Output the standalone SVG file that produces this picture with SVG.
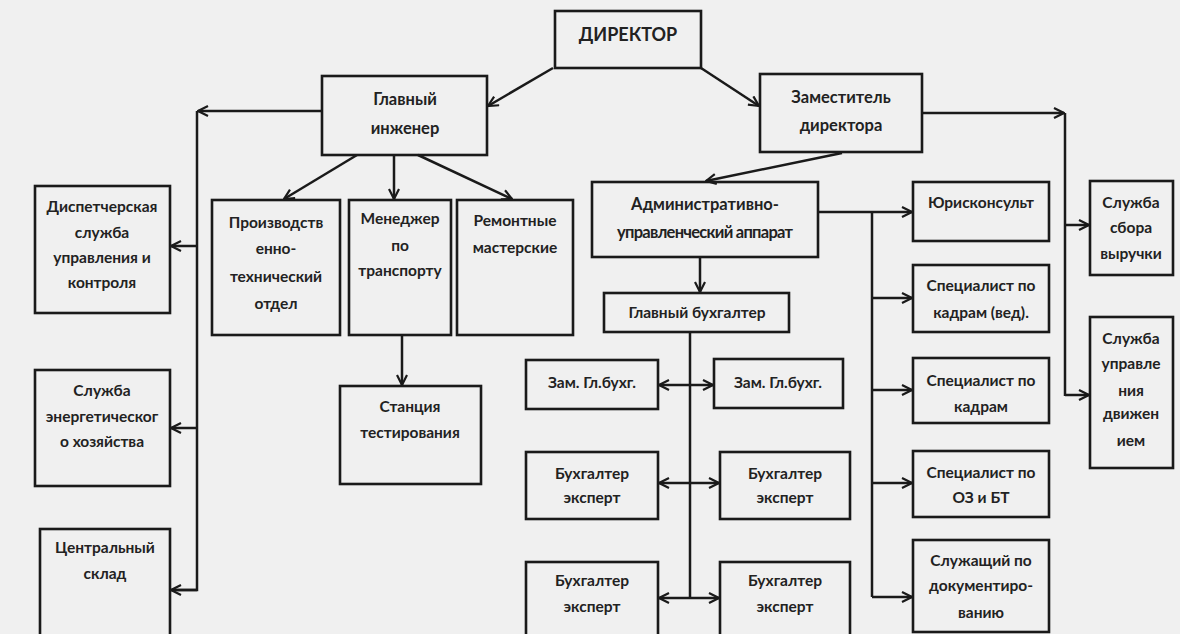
<svg xmlns="http://www.w3.org/2000/svg" width="1180" height="634" viewBox="0 0 1180 634">
<defs>
<marker id="ah" viewBox="0 0 12 12" refX="11" refY="6" markerWidth="12" markerHeight="12" markerUnits="userSpaceOnUse" orient="auto-start-reverse">
<path d="M1,1 L11,6 L1,11" fill="none" stroke="#1a1a1a" stroke-width="2.2"/>
</marker>
<style>
.b{fill:none;stroke:#1a1a1a;stroke-width:2.6}
.t{font-family:Lato,"Open Sans","DejaVu Sans",sans-serif;font-weight:bold;font-size:15.5px;fill:#222;text-anchor:middle}
.m{font-size:16.5px}
.big{font-size:18px}
.c{fill:none;stroke:#1a1a1a;stroke-width:2.5}
.a{marker-end:url(#ah)}
.d{marker-start:url(#ah);marker-end:url(#ah)}
</style>
</defs>
<rect width="1180" height="634" fill="#f0f0f0"/>

<g id="connectors">
<line class="c a" x1="553" y1="68" x2="488" y2="106"/>
<line class="c a" x1="701" y1="68" x2="759" y2="106"/>
<line class="c a" x1="322" y1="111" x2="198" y2="111"/>
<polyline class="c" points="197,111 197,590 172,590"/>
<line class="c a" x1="197" y1="590" x2="171" y2="590"/>
<line class="c a" x1="197" y1="246" x2="171" y2="246"/>
<line class="c a" x1="197" y1="428" x2="171" y2="428"/>
<line class="c a" x1="357" y1="155" x2="284" y2="199"/>
<line class="c a" x1="394" y1="155" x2="394" y2="199"/>
<line class="c a" x1="418" y1="155" x2="512" y2="199"/>
<line class="c a" x1="402" y1="335" x2="402" y2="385"/>
<line class="c a" x1="842" y1="153" x2="706" y2="181"/>
<line class="c a" x1="922" y1="113" x2="1064" y2="113"/>
<line class="c" x1="1065" y1="113" x2="1065" y2="396"/>
<line class="c a" x1="1065" y1="225" x2="1089" y2="225"/>
<line class="c a" x1="1065" y1="395" x2="1089" y2="395"/>
<line class="c a" x1="818" y1="212" x2="912" y2="212"/>
<line class="c" x1="872" y1="212" x2="872" y2="597"/>
<line class="c a" x1="872" y1="298" x2="912" y2="298"/>
<line class="c a" x1="872" y1="390" x2="912" y2="390"/>
<line class="c a" x1="872" y1="483" x2="912" y2="483"/>
<line class="c a" x1="872" y1="597" x2="912" y2="597"/>
<line class="c a" x1="700" y1="257" x2="700" y2="292"/>
<line class="c" x1="690" y1="332" x2="690" y2="598"/>
<line class="c d" x1="659" y1="385" x2="713" y2="385"/>
<line class="c d" x1="659" y1="483" x2="719" y2="483"/>
<line class="c d" x1="659" y1="598" x2="719" y2="598"/>
</g>

<g id="director"><rect class="b" x="555" y="11" width="146" height="57"/><text class="t big" x="628" y="41">ДИРЕКТОР</text></g>
<g id="chief-engineer"><rect class="b" x="322" y="76" width="165" height="79"/><text class="t m" x="405" y="105">Главный</text><text class="t m" x="405" y="134">инженер</text></g>
<g id="deputy-director"><rect class="b" x="760" y="74" width="162" height="78"/><text class="t m" x="841" y="103">Заместитель</text><text class="t m" x="841" y="131">директора</text></g>

<g id="dispatch"><rect class="b" x="35" y="186" width="135" height="127"/><text class="t" x="102" y="212">Диспетчерская</text><text class="t" x="102" y="238">служба</text><text class="t" x="102" y="263">управления и</text><text class="t" x="102" y="288">контроля</text></g>
<g id="energy"><rect class="b" x="35" y="370" width="135" height="116"/><text class="t" x="102" y="396">Служба</text><text class="t" x="102" y="422">энергетическог</text><text class="t" x="102" y="447">о хозяйства</text></g>
<g id="warehouse"><rect class="b" x="40" y="529" width="130" height="115"/><text class="t" x="105" y="553">Центральный</text><text class="t" x="105" y="579">склад</text></g>

<g id="pto"><rect class="b" x="212" y="200" width="128" height="135"/><text class="t" x="276" y="228">Производств</text><text class="t" x="276" y="254">енно-</text><text class="t" x="276" y="282">технический</text><text class="t" x="276" y="309">отдел</text></g>
<g id="transport-manager"><rect class="b" x="349" y="200" width="102" height="135"/><text class="t" x="400" y="224">Менеджер</text><text class="t" x="400" y="251">по</text><text class="t" x="400" y="276">транспорту</text></g>
<g id="repair"><rect class="b" x="457" y="200" width="116" height="135"/><text class="t" x="515" y="226">Ремонтные</text><text class="t" x="515" y="253">мастерские</text></g>
<g id="test-station"><rect class="b" x="340" y="386" width="141" height="98"/><text class="t" x="410" y="412">Станция</text><text class="t" x="410" y="438">тестирования</text></g>

<g id="admin"><rect class="b" x="592" y="182" width="226" height="75"/><text class="t m" x="705" y="210">Административно-</text><text class="t m" x="705" y="238" textLength="176" lengthAdjust="spacing">управленческий аппарат</text></g>
<g id="chief-accountant"><rect class="b" x="604" y="293" width="185" height="39"/><text class="t" x="697" y="318">Главный бухгалтер</text></g>
<g id="deputy-acc-1"><rect class="b" x="526" y="360" width="132" height="49"/><text class="t" x="592" y="388">Зам. Гл.бухг.</text></g>
<g id="deputy-acc-2"><rect class="b" x="714" y="359" width="129" height="49"/><text class="t" x="778" y="388">Зам. Гл.бухг.</text></g>
<g id="acc-expert-1"><rect class="b" x="526" y="452" width="132" height="67"/><text class="t" x="592" y="479">Бухгалтер</text><text class="t" x="592" y="503">эксперт</text></g>
<g id="acc-expert-2"><rect class="b" x="720" y="452" width="130" height="67"/><text class="t" x="785" y="479">Бухгалтер</text><text class="t" x="785" y="503">эксперт</text></g>
<g id="acc-expert-3"><rect class="b" x="526" y="562" width="132" height="82"/><text class="t" x="592" y="586">Бухгалтер</text><text class="t" x="592" y="612">эксперт</text></g>
<g id="acc-expert-4"><rect class="b" x="720" y="562" width="130" height="82"/><text class="t" x="785" y="586">Бухгалтер</text><text class="t" x="785" y="612">эксперт</text></g>

<g id="lawyer"><rect class="b" x="913" y="182" width="136" height="59"/><text class="t" x="981" y="208">Юрисконсульт</text></g>
<g id="hr-lead"><rect class="b" x="913" y="265" width="136" height="67"/><text class="t" x="981" y="291">Специалист по</text><text class="t" x="981" y="318">кадрам (вед).</text></g>
<g id="hr"><rect class="b" x="913" y="358" width="136" height="65"/><text class="t" x="981" y="386">Специалист по</text><text class="t" x="981" y="412">кадрам</text></g>
<g id="safety"><rect class="b" x="913" y="451" width="136" height="66"/><text class="t" x="981" y="478">Специалист по</text><text class="t" x="981" y="503">ОЗ и БТ</text></g>
<g id="docs"><rect class="b" x="913" y="540" width="136" height="92"/><text class="t" x="981" y="566">Служащий по</text><text class="t" x="981" y="591">документиро-</text><text class="t" x="981" y="618">ванию</text></g>

<g id="revenue"><rect class="b" x="1090" y="181" width="83" height="94"/><text class="t" x="1131" y="208">Служба</text><text class="t" x="1131" y="233">сбора</text><text class="t" x="1131" y="259">выручки</text></g>
<g id="traffic"><rect class="b" x="1090" y="317" width="83" height="151"/><text class="t" x="1131" y="344">Служба</text><text class="t" x="1131" y="369">управле</text><text class="t" x="1131" y="396">ния</text><text class="t" x="1131" y="419">движен</text><text class="t" x="1131" y="446">ием</text></g>
</svg>
